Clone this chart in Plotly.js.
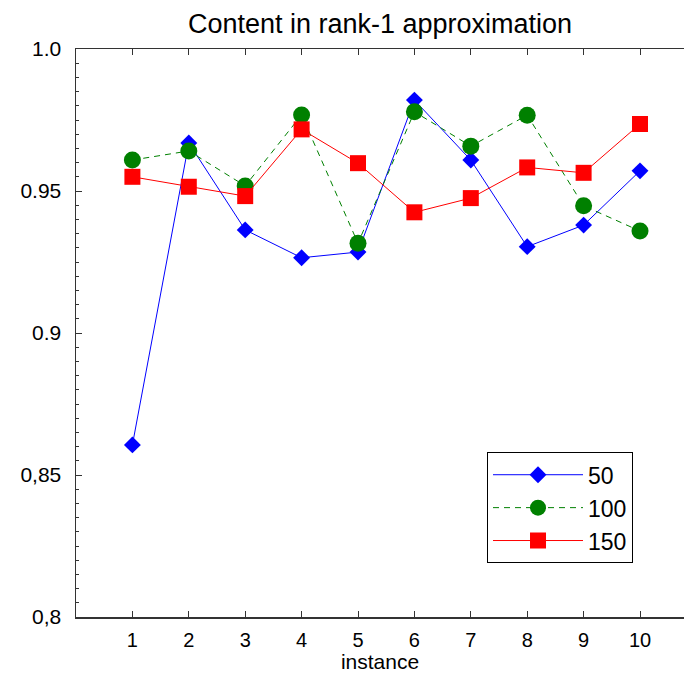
<!DOCTYPE html>
<html>
<head>
<meta charset="utf-8">
<script src="https://cdn.plot.ly/plotly-3.0.1.min.js"></script>
<style>html,body{margin:0;padding:0;background:#fff;}#chart{width:684px;height:677px;}</style>
</head>
<body>
<div id="chart"></div>
<script>
const instances = [1, 2, 3, 4, 5, 6, 7, 8, 9, 10];
const series50  = [0.8606, 0.9669, 0.9363, 0.9265, 0.9285, 0.9820, 0.9609, 0.9304, 0.9380, 0.9571];
const series100 = [0.9609, 0.9641, 0.9518, 0.9768, 0.9316, 0.9779, 0.9658, 0.9767, 0.9448, 0.9359];
const series150 = [0.9550, 0.9515, 0.9482, 0.9717, 0.9598, 0.9425, 0.9475, 0.9583, 0.9564, 0.9736];
const seriesNames = ['50', '100', '150'];
const yTickVals = [0.8, 0.85, 0.9, 0.95, 1.0];
const yTickText = ['0,8', '0,85', '0.9', '0.95', '1.0'];
const xTickVals = [1, 2, 3, 4, 5, 6, 7, 8, 9, 10];
const xTickText = ['1', '2', '3', '4', '5', '6', '7', '8', '9', '10'];

const FONT = 'Liberation Sans, Arial, sans-serif';

const traces = [
  {x: instances, y: series50, name: seriesNames[0], type: 'scatter', mode: 'lines+markers',
   line: {color: '#0000ff', width: 1}, marker: {symbol: 'diamond', size: 13, color: '#0000ff'}},
  {x: instances, y: series100, name: seriesNames[1], type: 'scatter', mode: 'lines+markers',
   line: {color: '#008000', width: 1, dash: '6px,5px'}, marker: {symbol: 'circle', size: 17, color: '#008000'}},
  {x: instances, y: series150, name: seriesNames[2], type: 'scatter', mode: 'lines+markers',
   line: {color: '#ff0000', width: 1}, marker: {symbol: 'square', size: 16, color: '#ff0000'}}
];

const layout = {
  width: 684, height: 677,
  margin: {l: 76, r: 0, t: 49, b: 60},
  paper_bgcolor: '#ffffff', plot_bgcolor: '#ffffff',
  font: {family: FONT, color: '#000', size: 21},
  showlegend: true,
  title: {text: 'Content in rank-1 approximation', font: {family: FONT, size: 27, color: '#000'},
          x: 0.5, xref: 'paper', xanchor: 'center', y: 0.965, yref: 'container', yanchor: 'middle'},
  xaxis: {
    range: [0, 10.78], tickmode: 'array', tickvals: xTickVals, ticktext: xTickText,
    ticks: 'inside', ticklen: 6, tickwidth: 1, tickcolor: '#333',
    showline: true, linecolor: '#333', linewidth: 1.5, mirror: 'ticks',
    showgrid: false, zeroline: false, ticklabelstandoff: 4,
    tickfont: {family: FONT, size: 20, color: '#000'},
    title: {text: 'instance', font: {family: FONT, size: 21, color: '#000'}, standoff: 2}
  },
  yaxis: {
    range: [0.8, 1.0], tickmode: 'array', tickvals: yTickVals, ticktext: yTickText,
    ticks: 'inside', ticklen: 6, tickwidth: 1, tickcolor: '#333',
    minor: {dtick: 0.005, ticks: 'inside', ticklen: 3, tickcolor: '#333', tickwidth: 1, showgrid: false},
    showline: true, linecolor: '#333', linewidth: 1.5, mirror: false,
    showgrid: false, zeroline: false, ticklabelstandoff: 9,
    tickfont: {family: FONT, size: 21, color: '#000'}
  },
  legend: {
    x: 0.676, y: 0.29, xanchor: 'left', yanchor: 'top',
    bgcolor: '#ffffff', bordercolor: '#000', borderwidth: 1,
    font: {family: FONT, size: 23, color: '#000'},
    itemwidth: 90, tracegroupgap: 0
  }
};

Plotly.newPlot('chart', traces, layout, {displayModeBar: false, staticPlot: true});
</script>
</body>
</html>
